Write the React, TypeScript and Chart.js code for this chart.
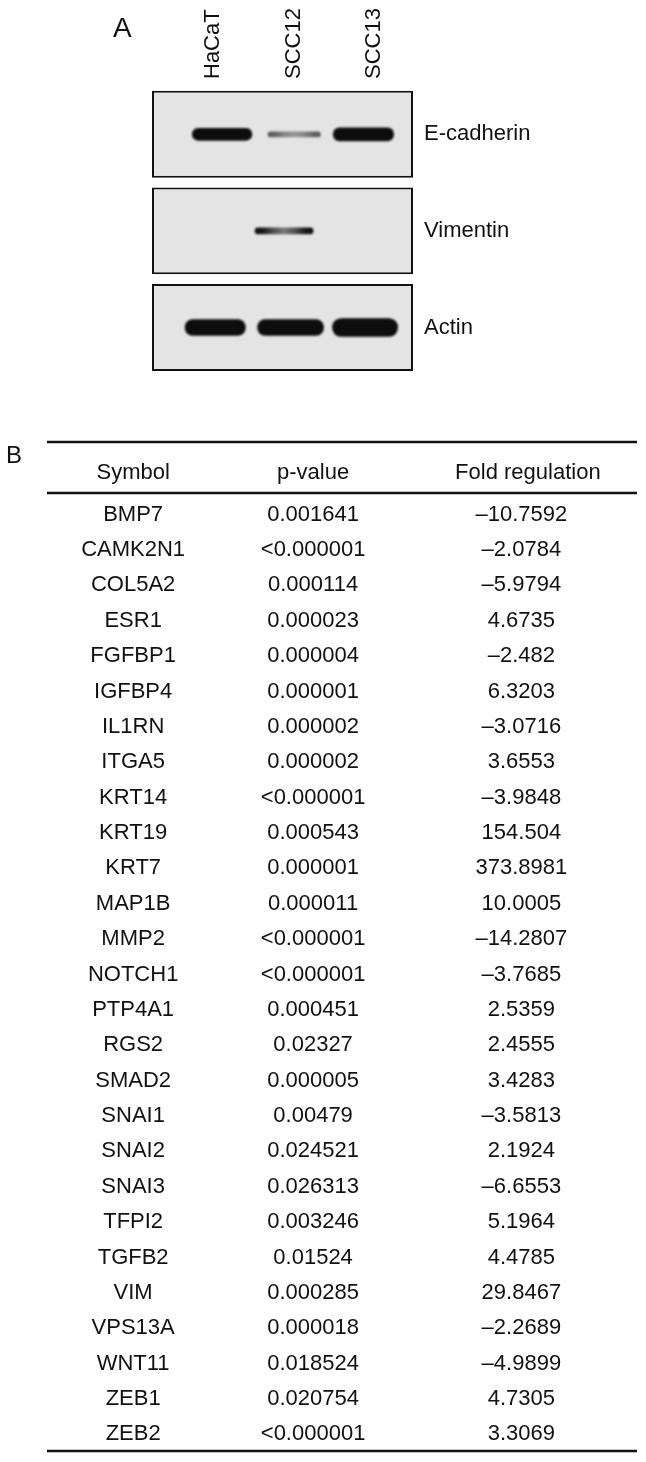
import React, { useEffect, useRef } from "react";
import { Chart, registerables } from "chart.js";

Chart.register(...registerables);

const FONT = "'Liberation Sans', Arial, Helvetica, sans-serif";
Chart.defaults.font.family = FONT;

// ---------- Panel A data (western blot) ----------
const lanes = ["HaCaT", "SCC12", "SCC13"];
const proteins = ["E-cadherin", "Vimentin", "Actin"];
// lane-unit extent of the membrane
const laneRange: [number, number] = [0.24, 3.48];
// band extents [start, end] in lane units, per lane
const eCadherinBands = [[0.74, 1.48], [1.68, 2.33], [2.49, 3.24]];
const vimentinBands = [null, [1.52, 2.24], null];
const actinBands = [[0.65, 1.4], [1.55, 2.37], [2.48, 3.29]];
// relative band intensity (0 = none, 1 = saturated)
const eCadherinIntensity = [1, 0.6, 1];
const vimentinIntensity = [0, 0.85, 0];
const actinIntensity = [1, 1, 1];

// ---------- Panel B data (table) ----------
const headers = ["Symbol", "p-value", "Fold regulation"];
const symbols = [
  "BMP7", "CAMK2N1", "COL5A2", "ESR1", "FGFBP1", "IGFBP4", "IL1RN", "ITGA5", "KRT14",
  "KRT19", "KRT7", "MAP1B", "MMP2", "NOTCH1", "PTP4A1", "RGS2", "SMAD2", "SNAI1",
  "SNAI2", "SNAI3", "TFPI2", "TGFB2", "VIM", "VPS13A", "WNT11", "ZEB1", "ZEB2",
];
const pValues = [
  "0.001641", "<0.000001", "0.000114", "0.000023", "0.000004", "0.000001", "0.000002",
  "0.000002", "<0.000001", "0.000543", "0.000001", "0.000011", "<0.000001", "<0.000001",
  "0.000451", "0.02327", "0.000005", "0.00479", "0.024521", "0.026313", "0.003246",
  "0.01524", "0.000285", "0.000018", "0.018524", "0.020754", "<0.000001",
];
const foldRegulation = [
  -10.7592, -2.0784, -5.9794, 4.6735, -2.482, 6.3203, -3.0716, 3.6553, -3.9848,
  154.504, 373.8981, 10.0005, -14.2807, -3.7685, 2.5359, 2.4555, 3.4283, -3.5813,
  2.1924, -6.6553, 5.1964, 4.4785, 29.8467, -2.2689, -4.9899, 4.7305, 3.3069,
];

// ---------- styles / layout ----------
const TEXT = "#111";
const BAND_PX = [[12, 5, 13], [6, 6, 6], [16, 16, 18]];
const BLOT = { width: 646, height: 400, left: 152, top: 86, right: 413, bottom: 389 };
const TABLE = { top: 420, height: 1042, left: 47, right: 637, areaTop: 77, bottomPad: 10 };
const COLUMN_X = [0.146, 0.451, 0.804];
const HEADER_X = [0.146, 0.451, 0.815];
const RULE_OFFSETS = { top: 55, header: 4 };

const fmtFold = (v: number) => (v < 0 ? "\u2013" + String(-v) : String(v));

function bandColor(intensity: number) {
  const g = Math.round(228 - intensity * 215);
  return `rgb(${g},${g},${g})`;
}

const bandBlur = {
  id: "bandBlur",
  beforeDatasetDraw(chart: any, args: any) {
    const ds = chart.data.datasets[args.index];
    if (ds.isBand) {
      chart.ctx.save();
      chart.ctx.filter = "blur(1.3px)";
    }
  },
  afterDatasetDraw(chart: any, args: any) {
    const ds = chart.data.datasets[args.index];
    if (ds.isBand) chart.ctx.restore();
  },
};

function blotConfig(): any {
  const bandSets = [eCadherinBands, vimentinBands, actinBands];
  const intensitySets = [eCadherinIntensity, vimentinIntensity, actinIntensity];
  const datasets: any[] = [];
  proteins.forEach((p, pi) => {
    lanes.forEach((l, li) => {
      const ext = bandSets[pi][li];
      const inten = intensitySets[pi][li];
      if (!ext || !inten) return;
      const thick = BAND_PX[pi][li];
      const dumbbell = inten < 0.9;
      datasets.push({
        label: `${p} ${l}`,
        isBand: true,
        data: proteins.map((_, k) => (k === pi ? ext : null)),
        backgroundColor: (ctx: any) => {
          const base = bandColor(inten);
          if (!dumbbell || ctx.type !== "data" || !ctx.raw) return base;
          const xs = ctx.chart.scales.x;
          if (!xs) return base;
          const x0 = xs.getPixelForValue(ctx.raw[0]);
          const x1 = xs.getPixelForValue(ctx.raw[1]);
          if (!Number.isFinite(x0) || !Number.isFinite(x1) || x1 <= x0) return base;
          const g = ctx.chart.ctx.createLinearGradient(x0, 0, x1, 0);
          const dark = pi === 1 ? 15 : 90;
          const mid = pi === 1 ? 120 : 150;
          const c = (v: number) => `rgb(${v},${v},${v})`;
          g.addColorStop(0, c(dark));
          g.addColorStop(0.14, c(dark + 10));
          g.addColorStop(0.3, c(Math.round((dark + mid) / 1.8)));
          g.addColorStop(0.5, c(mid));
          g.addColorStop(0.7, c(Math.round((dark + mid) / 1.8)));
          g.addColorStop(0.86, c(dark + 10));
          g.addColorStop(1, c(dark));
          return g;
        },
        barThickness: thick,
        borderRadius: thick / 2,
        borderSkipped: false,
        borderWidth: 0,
        grouped: false,
        order: 1,
      });
    });
  });
  datasets.push({
    label: "membrane",
    data: proteins.map(() => laneRange),
    backgroundColor: "#e4e4e4",
    borderColor: "#111",
    borderWidth: 2,
    borderSkipped: false,
    barPercentage: 0.9,
    categoryPercentage: 1,
    grouped: false,
    order: 2,
  });

  return {
    type: "bar",
    data: { labels: proteins, datasets },
    options: {
      indexAxis: "y",
      animation: false,
      responsive: false,
      devicePixelRatio: 1,
      layout: { padding: { left: BLOT.left, right: 0, top: 0, bottom: BLOT.height - BLOT.bottom } },
      plugins: { legend: { display: false }, tooltip: { enabled: false } },
      scales: {
        x: {
          type: "linear",
          position: "top",
          min: laneRange[0],
          max: laneRange[1],
          bounds: "data",
          grid: { display: false, drawTicks: false },
          border: { display: false },
          afterBuildTicks: (s: any) => {
            s.ticks = lanes.map((_, i) => ({ value: i + 1 }));
          },
          afterFit: (s: any) => {
            s.height = BLOT.top;
          },
          ticks: {
            autoSkip: false,
            minRotation: 90,
            maxRotation: 90,
            padding: 7,
            color: TEXT,
            font: { family: FONT, size: 22, lineHeight: 0.001 },
            callback: (_v: any, i: number) => lanes[i],
          },
        },
        y: {
          type: "category",
          position: "right",
          grid: { display: false, drawTicks: false },
          border: { display: false },
          afterFit: (s: any) => {
            s.width = BLOT.width - BLOT.right;
          },
          ticks: { padding: 11, color: TEXT, font: { family: FONT, size: 22 } },
        },
      },
    },
    plugins: [bandBlur],
  };
}

const tableText = {
  id: "tableText",
  afterDatasetsDraw(chart: any) {
    const ctx = chart.ctx;
    const columns = [symbols, pValues, foldRegulation.map(fmtFold)];
    ctx.save();
    ctx.fillStyle = TEXT;
    ctx.font = `22px ${FONT}`;
    ctx.textAlign = "center";
    ctx.textBaseline = "middle";
    chart.data.datasets.forEach((_ds: any, di: number) => {
      const meta = chart.getDatasetMeta(di);
      meta.data.forEach((el: any, i: number) => {
        ctx.fillText(columns[di][i], el.x, el.y);
      });
    });
    ctx.restore();
  },
  afterDraw(chart: any) {
    const { ctx, chartArea } = chart;
    ctx.save();
    ctx.strokeStyle = "#111";
    ctx.lineWidth = 2.5;
    const ys = [
      chartArea.top - RULE_OFFSETS.top,
      chartArea.top - RULE_OFFSETS.header,
      chartArea.bottom - 1,
    ];
    ys.forEach((y) => {
      ctx.beginPath();
      ctx.moveTo(chartArea.left, y);
      ctx.lineTo(chartArea.right, y);
      ctx.stroke();
    });
    ctx.restore();
  },
};

function tableConfig(): any {
  const datasets = headers.map((h, c) => ({
    label: h,
    data: symbols.map((s) => ({ x: COLUMN_X[c], y: s })),
    pointRadius: 0,
    pointHoverRadius: 0,
    showLine: false,
  }));
  return {
    type: "scatter",
    data: { labels: symbols, datasets },
    options: {
      animation: false,
      responsive: false,
      devicePixelRatio: 1,
      layout: {
        padding: { left: TABLE.left, right: 646 - TABLE.right, top: 0, bottom: TABLE.bottomPad },
      },
      plugins: { legend: { display: false }, tooltip: { enabled: false } },
      scales: {
        x: {
          type: "linear",
          position: "top",
          min: 0,
          max: 1,
          bounds: "data",
          grid: { display: false, drawTicks: false },
          border: { display: false },
          afterBuildTicks: (s: any) => {
            s.ticks = HEADER_X.map((v) => ({ value: v }));
          },
          afterFit: (s: any) => {
            s.height = TABLE.areaTop;
          },
          ticks: {
            autoSkip: false,
            maxRotation: 0,
            minRotation: 0,
            padding: 11,
            color: TEXT,
            font: { family: FONT, size: 22 },
            callback: (_v: any, i: number) => headers[i],
          },
        },
        y: {
          type: "category",
          labels: symbols,
          offset: true,
          display: false,
        },
      },
    },
    plugins: [tableText],
  };
}

export default function App() {
  const blotRef = useRef<HTMLCanvasElement>(null);
  const tableRef = useRef<HTMLCanvasElement>(null);

  useEffect(() => {
    const c1 = new Chart(blotRef.current as HTMLCanvasElement, blotConfig());
    const c2 = new Chart(tableRef.current as HTMLCanvasElement, tableConfig());
    return () => {
      c1.destroy();
      c2.destroy();
    };
  }, []);

  return (
    <div
      style={{
        position: "absolute",
        left: 0,
        top: 0,
        width: 646,
        height: 1462,
        background: "#fff",
        overflow: "hidden",
      }}
    >
      <canvas
        ref={blotRef}
        width={BLOT.width}
        height={BLOT.height}
        style={{ position: "absolute", left: 0, top: 0, width: BLOT.width, height: BLOT.height }}
      />
      <canvas
        ref={tableRef}
        width={646}
        height={TABLE.height}
        style={{ position: "absolute", left: 0, top: TABLE.top, width: 646, height: TABLE.height }}
      />
      <div style={{ position: "absolute", left: 113, top: 14, font: `28px/28px ${FONT}`, color: TEXT }}>A</div>
      <div style={{ position: "absolute", left: 6, top: 443, font: `24px/24px ${FONT}`, color: TEXT }}>B</div>
    </div>
  );
}
